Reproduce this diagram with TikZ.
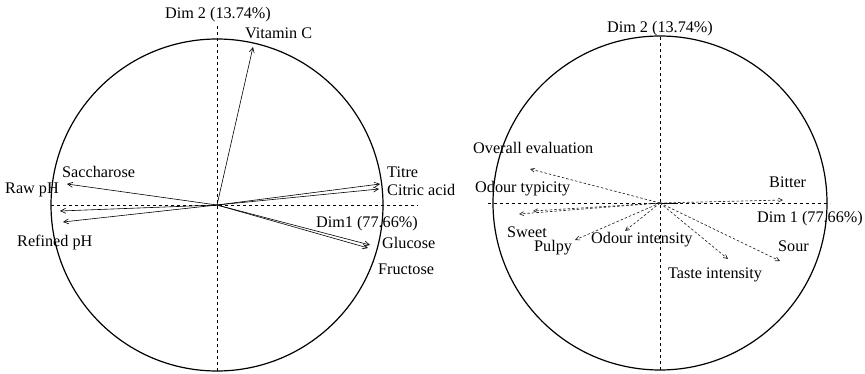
\documentclass[tikz,border=0pt]{standalone}
\usepackage{fontspec}
\setmainfont{Liberation Serif}
\usetikzlibrary{arrows.meta}
\begin{document}
\begin{tikzpicture}[x=1pt,y=-1pt,
  lbl/.style={font=\fontsize{16.2}{19}\selectfont, inner sep=0pt, anchor=west},
  axisline/.style={dash pattern=on 3pt off 3pt, line width=0.8pt},
  ring/.style={line width=1.2pt},
  vec/.style={line width=0.6pt, -{Straight Barb[length=5pt,width=5pt]}},
  dvec/.style={line width=0.65pt, dash pattern=on 2.5pt off 2pt, black!85, -{Straight Barb[length=4pt,width=4pt]}}]
\useasboundingbox (0,0) rectangle (865,374);

% ---------- left panel ----------
\coordinate (c1) at (217,205);
\draw[ring] (c1) circle[radius=166];
\coordinate (v1t) at (217,26);
\coordinate (v1b) at (217,373);
\coordinate (h1l) at (51,205);
\coordinate (h1r) at (418,205);
\draw[axisline] (v1t) -- (v1b);
\draw[axisline] (h1l) -- (h1r);

\coordinate (vitc) at (253,47);
\coordinate (sacc) at (67,184);
\coordinate (rawph) at (60,211);
\coordinate (refph) at (63,222);
\coordinate (titre) at (380,184);
\coordinate (citric) at (379,189);
\coordinate (gluc) at (370,245);
\coordinate (fruc) at (368,248);
\foreach \t in {vitc,sacc,rawph,refph,titre,citric,gluc,fruc}
  \draw[vec] (c1) -- (\t);

\node[lbl, anchor=center] (d2a) at (218,15) {Dim 2 (13.74\%)};
\node[lbl] (lvitc) at (245,33) {Vitamin C};
\node[lbl] (lsacc) at (62,172) {Saccharose};
\node[lbl] (lraw) at (5,190) {Raw pH};
\node[lbl] (lref) at (17,243) {Refined pH};
\node[lbl] (ltitre) at (387,172) {Titre};
\node[lbl] (lcitric) at (387,190) {Citric acid};
\node[lbl, anchor=east] (d1a) at (418,224) {Dim1 (77.66\%)};
\node[lbl] (lgluc) at (382,243) {Glucose};
\node[lbl] (lfruc) at (378,269) {Fructose};

% ---------- right panel ----------
\coordinate (c2) at (660,203);
\draw[ring] (c2) circle[radius=167];
\coordinate (v2t) at (660,37);
\coordinate (v2b) at (660,371);
\coordinate (h2l) at (488,203);
\coordinate (h2r) at (830,203);
\draw[axisline] (v2t) -- (v2b);
\draw[axisline] (h2l) -- (h2r);
\coordinate (bs) at (678,203);
\draw[line width=0.8pt] (c2) -- (bs);

\coordinate (bitter) at (783,200);
\coordinate (overall) at (530,169);
\coordinate (odtyp) at (533,211);
\coordinate (sweet) at (519,214);
\coordinate (pulpy) at (575,240);
\coordinate (odint) at (625,231);
\coordinate (tasteint) at (728,259);
\coordinate (sour) at (780,261);
\foreach \t in {bitter,overall,odtyp,sweet,pulpy,odint,tasteint,sour}
  \draw[dvec] (c2) -- (\t);

\node[lbl, anchor=center] (d2b) at (660,29) {Dim 2 (13.74\%)};
\node[lbl] (lover) at (473,148) {Overall evaluation};
\node[lbl] (lodtyp) at (475,189) {Odour typicity};
\node[lbl] (lbitter) at (769,182) {Bitter};
\node[lbl, anchor=east] (d1b) at (863,219) {Dim 1 (77.66\%)};
\node[lbl] (lsweet) at (507,232) {Sweet};
\node[lbl] (lpulpy) at (534,248) {Pulpy};
\node[lbl] (lodint) at (591,240) {Odour intensity};
\node[lbl] (lsour) at (778,246) {Sour};
\node[lbl] (ltaste) at (668,275) {Taste intensity};
\end{tikzpicture}
\end{document}
